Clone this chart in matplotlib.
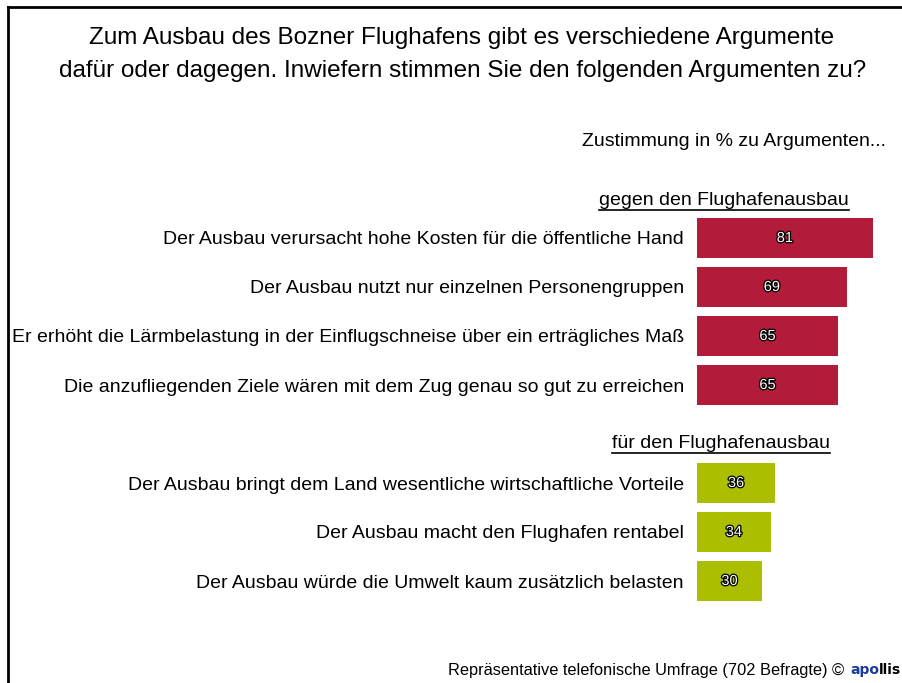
import matplotlib
matplotlib.use('Agg')
import matplotlib.pyplot as plt
import matplotlib.patheffects as pe
from matplotlib.lines import Line2D

FONT = ['Liberation Sans', 'DejaVu Sans']

# data
gegen_labels = [
    'Der Ausbau verursacht hohe Kosten für die öffentliche Hand',
    'Der Ausbau nutzt nur einzelnen Personengruppen',
    'Er erhöht die Lärmbelastung in der Einflugschneise über ein erträgliches Maß',
    'Die anzufliegenden Ziele wären mit dem Zug genau so gut zu erreichen',
]
gegen_values = [81, 69, 65, 65]
fuer_labels = [
    'Der Ausbau bringt dem Land wesentliche wirtschaftliche Vorteile',
    'Der Ausbau macht den Flughafen rentabel',
    'Der Ausbau würde die Umwelt kaum zusätzlich belasten',
]
fuer_values = [36, 34, 30]

RED = '#B31B3A'
GREEN = '#ABBF00'

W, H = 903, 683
fig = plt.figure(figsize=(W / 100, H / 100), dpi=100)

# axes in pixel layout: value 0 at x=697, 2.17 px per unit; row r at y=238+49r
ax_left, ax_right = 697, 903
ax_top, ax_bot = 189, 630
ax = fig.add_axes([ax_left / W, 1 - ax_bot / H, (ax_right - ax_left) / W, (ax_bot - ax_top) / H])
ax.set_xlim(0, (ax_right - ax_left) / 2.17)
ax.set_ylim(8, -1)
ax.axis('off')

pos_gegen = [0, 1, 2, 3]
pos_fuer = [5, 6, 7]

ax.barh(pos_gegen, gegen_values, height=0.82, color=RED)
ax.barh(pos_fuer, fuer_values, height=0.82, color=GREEN)

outline = [pe.withStroke(linewidth=1.8, foreground='black')]
LABEL_SIZE = 14.0
for p, v, lab in list(zip(pos_gegen, gegen_values, gegen_labels)) + list(zip(pos_fuer, fuer_values, fuer_labels)):
    ax.text(v / 2, p, str(v), ha='center', va='center', color='white', fontsize=10.5,
            family=FONT, path_effects=outline)
    ax.annotate(lab, xy=(0, p), xytext=(-13, -2), textcoords='offset pixels',
                ha='right', va='center', fontsize=LABEL_SIZE, family=FONT)

# section headers (underlined)
headers = []
headers.append(ax.annotate('gegen den Flughafenausbau', xy=(0, -0.8), xytext=(27, -2),
                           textcoords='offset pixels', ha='center', va='center',
                           fontsize=14, family=FONT))
headers.append(ax.annotate('für den Flughafenausbau', xy=(0, 4.16), xytext=(24, -2),
                           textcoords='offset pixels', ha='center', va='center',
                           fontsize=14, family=FONT))

# title and notes
fig.text(462 / W, 1 - 38 / H,
         'Zum Ausbau des Bozner Flughafens gibt es verschiedene Argumente',
         ha='center', va='center', fontsize=17.5, family=FONT)
fig.text(463 / W, 1 - 71 / H,
         'dafür oder dagegen. Inwiefern stimmen Sie den folgenden Argumenten zu?',
         ha='center', va='center', fontsize=17.5, family=FONT)
fig.text(886 / W, 1 - 141 / H, 'Zustimmung in % zu Argumenten...',
         ha='right', va='center', fontsize=14, family=FONT)

fig.text(844 / W, 1 - 671 / H, 'Repräsentative telefonische Umfrage (702 Befragte) ©',
         ha='right', va='center', fontsize=11.8, family=FONT)
logo1 = fig.text(850 / W, 1 - 670 / H, 'apo', ha='left', va='center', fontsize=10,
                 family='DejaVu Sans', weight='bold', color='#1A3A9C')

# frame lines (left and top)
fig.add_artist(Line2D([8 / W, 8 / W], [0, 1 - 7 / H], color='black', lw=2))
fig.add_artist(Line2D([8 / W, 1], [1 - 7 / H, 1 - 7 / H], color='black', lw=2))

fig.canvas.draw()
r = fig.canvas.get_renderer()
bb = logo1.get_window_extent(r)
fig.text(bb.x1 / W, 1 - 670 / H, 'llis', ha='left', va='center', fontsize=10,
         family='DejaVu Sans', weight='bold', color='black')
for h in headers:
    b = h.get_window_extent(r)
    y = (b.y0 - 1) / H
    fig.add_artist(Line2D([b.x0 / W, b.x1 / W], [y, y], color='black', lw=1.2))

fig.savefig('out.png', dpi=100)
